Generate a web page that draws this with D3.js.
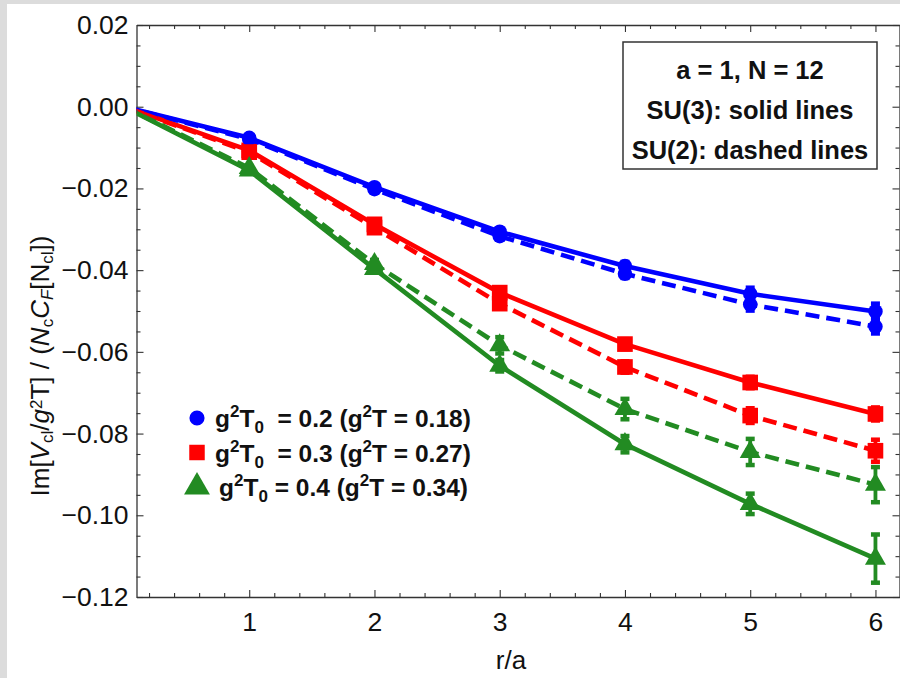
<!DOCTYPE html>
<html>
<head>
<meta charset="utf-8">
<script src="https://cdn.jsdelivr.net/npm/d3@7"></script>
<style>
  html, body { margin: 0; padding: 0; background: #dcdcdc; }
  svg { display: block; }
  text { font-family: "Liberation Sans", Arial, Helvetica, sans-serif; }
</style>
</head>
<body>
<svg id="chart" width="900" height="678"></svg>
<script>
// ---------- data ----------
const rValues = [0, 1, 2, 3, 4, 5, 6];

const su3_g02 = [0, -0.0076, -0.0197, -0.0306, -0.0390, -0.0458, -0.0501];
const su2_g02 = [0, -0.0079, -0.0202, -0.0317, -0.0409, -0.0484, -0.0538];
const su3_g03 = [0, -0.0107, -0.0288, -0.0455, -0.0581, -0.0675, -0.0752];
const su2_g03 = [0, -0.0111, -0.0296, -0.0482, -0.0637, -0.0756, -0.0842];
const su3_g04 = [0, -0.0156, -0.0397, -0.0634, -0.0826, -0.0972, -0.1106];
const su2_g04 = [0, -0.0150, -0.0385, -0.0584, -0.0740, -0.0845, -0.0925];

const err_su3_g02 = [0, 0.0004, 0.0006, 0.0008, 0.0010, 0.0015, 0.0019];
const err_su2_g02 = [0, 0.0004, 0.0006, 0.0008, 0.0010, 0.0015, 0.0017];
const err_su3_g03 = [0, 0.0005, 0.0007, 0.0010, 0.0012, 0.0014, 0.0016];
const err_su2_g03 = [0, 0.0005, 0.0008, 0.0011, 0.0014, 0.0018, 0.0027];
const err_su3_g04 = [0, 0.0005, 0.0009, 0.0014, 0.0020, 0.0025, 0.0059];
const err_su2_g04 = [0, 0.0005, 0.0010, 0.0020, 0.0025, 0.0032, 0.0043];

const yTickValues = [-0.12, -0.10, -0.08, -0.06, -0.04, -0.02, 0.00, 0.02];
const xTickValues = [1, 2, 3, 4, 5, 6];
const legendLabels = [
  ["0.2", "0.18"],
  ["0.3", "0.27"],
  ["0.4", "0.34"]
];
const infoLines = ["a = 1, N = 12", "SU(3): solid lines", "SU(2): dashed lines"];

// ---------- setup ----------
const svg = d3.select("#chart");
svg.append("rect").attr("x", 7).attr("y", 4).attr("width", 893).attr("height", 674).attr("fill", "#ffffff");

const pLeft = 136.5, pRight = 900.5, pTop = 25, pBottom = 597;
const x = d3.scaleLinear().domain([0.1, 6.2]).range([pLeft, pRight]);
const y = d3.scaleLinear().domain([-0.12, 0.02]).range([pBottom, pTop]);

const colors = ["#0000ff", "#ff0000", "#228b22"];
const axisColor = "#333333";

// minor ticks
const xMinor = d3.range(2, 62, 2).map(v => v / 10).filter(v => Math.abs(v - Math.round(v)) > 1e-6);
const yMinor = d3.range(-120, 21, 5).map(v => v / 1000).filter(v => Math.abs(v * 50 - Math.round(v * 50)) > 1e-6);

function styleAxis(g) {
  g.selectAll("path").attr("stroke", axisColor).attr("stroke-width", 1.3);
  g.selectAll("line").attr("stroke", axisColor).attr("stroke-width", 1.1);
  g.selectAll("text").attr("fill", "#111").style("font-size", "26.5px").style("font-family", "'Liberation Sans', Arial, sans-serif");
}

// left axis
const gL = svg.append("g").attr("transform", `translate(${pLeft},0)`)
  .call(d3.axisLeft(y).tickValues(yTickValues).tickSizeInner(-7).tickSizeOuter(0).tickPadding(8).tickFormat(d3.format(".2f")));
styleAxis(gL);
const gLm = svg.append("g").attr("transform", `translate(${pLeft},0)`)
  .call(d3.axisLeft(y).tickValues(yMinor).tickSizeInner(-4).tickSizeOuter(0).tickFormat(""));
styleAxis(gLm); gLm.select("path").remove();

// right axis
const gR = svg.append("g").attr("transform", `translate(${pRight - 1},0)`)
  .call(d3.axisRight(y).tickValues(yTickValues).tickSizeInner(-7).tickSizeOuter(0).tickFormat(""));
styleAxis(gR);
const gRm = svg.append("g").attr("transform", `translate(${pRight - 1},0)`)
  .call(d3.axisRight(y).tickValues(yMinor).tickSizeInner(-4).tickSizeOuter(0).tickFormat(""));
styleAxis(gRm); gRm.select("path").remove();

// bottom axis
const gB = svg.append("g").attr("transform", `translate(0,${pBottom})`)
  .call(d3.axisBottom(x).tickValues(xTickValues).tickSizeInner(-7).tickSizeOuter(0).tickPadding(15).tickFormat(d3.format("d")));
styleAxis(gB);
const gBm = svg.append("g").attr("transform", `translate(0,${pBottom})`)
  .call(d3.axisBottom(x).tickValues(xMinor).tickSizeInner(-4).tickSizeOuter(0).tickFormat(""));
styleAxis(gBm); gBm.select("path").remove();

// top axis
const gT = svg.append("g").attr("transform", `translate(0,${pTop})`)
  .call(d3.axisTop(x).tickValues(xTickValues).tickSizeInner(-7).tickSizeOuter(0).tickFormat(""));
styleAxis(gT);
const gTm = svg.append("g").attr("transform", `translate(0,${pTop})`)
  .call(d3.axisTop(x).tickValues(xMinor).tickSizeInner(-4).tickSizeOuter(0).tickFormat(""));
styleAxis(gTm); gTm.select("path").remove();

// ---------- data marks ----------
svg.append("clipPath").attr("id", "plotclip")
  .append("rect").attr("x", pLeft).attr("y", pTop).attr("width", pRight - pLeft).attr("height", pBottom - pTop);
const plot = svg.append("g").attr("clip-path", "url(#plotclip)");

const series = [
  { vals: su3_g02, err: err_su3_g02, color: colors[0], dashed: false, shape: d3.symbolCircle, size: 165 },
  { vals: su3_g03, err: err_su3_g03, color: colors[1], dashed: false, shape: d3.symbolSquare, size: 245 },
  { vals: su3_g04, err: err_su3_g04, color: colors[2], dashed: false, shape: d3.symbolTriangle, size: 190 },
  { vals: su2_g02, err: err_su2_g02, color: colors[0], dashed: true, shape: d3.symbolCircle, size: 165 },
  { vals: su2_g03, err: err_su2_g03, color: colors[1], dashed: true, shape: d3.symbolSquare, size: 245 },
  { vals: su2_g04, err: err_su2_g04, color: colors[2], dashed: true, shape: d3.symbolTriangle, size: 190 }
];

const line = d3.line().x(d => x(d.r)).y(d => y(d.v));

series.forEach(s => {
  const pts = rValues.map((r, i) => ({ r, v: s.vals[i], e: s.err[i] }));
  plot.append("path").datum(pts)
    .attr("d", line)
    .attr("fill", "none")
    .attr("stroke", s.color)
    .attr("stroke-width", 4.6)
    .attr("stroke-linejoin", "round")
    .attr("stroke-dasharray", s.dashed ? "14,7" : null);
  const shown = pts.filter(p => p.r > 0);
  // error bars
  const eb = plot.append("g");
  shown.forEach(p => {
    eb.append("line").attr("x1", x(p.r)).attr("x2", x(p.r))
      .attr("y1", y(p.v - p.e)).attr("y2", y(p.v + p.e))
      .attr("stroke", s.color).attr("stroke-width", 3.8);
    [p.v - p.e, p.v + p.e].forEach(v => {
      eb.append("line").attr("x1", x(p.r) - 4.5).attr("x2", x(p.r) + 4.5)
        .attr("y1", y(v)).attr("y2", y(v))
        .attr("stroke", s.color).attr("stroke-width", 4.5);
    });
  });
  plot.append("g").selectAll("path").data(shown).join("path")
    .attr("transform", p => `translate(${x(p.r)},${y(p.v)})`)
    .attr("d", d3.symbol().type(s.shape).size(s.size))
    .attr("fill", s.color);
});

// ---------- axis labels ----------
const ylab = svg.append("text")
  .attr("transform", "translate(49,366) rotate(-90)")
  .attr("text-anchor", "middle")
  .style("font-size", "26px").attr("fill", "#111");
ylab.append("tspan").text("Im[");
ylab.append("tspan").text("V").style("font-style", "italic");
ylab.append("tspan").text("cl").attr("baseline-shift", "-25%").style("font-size", "17px");
ylab.append("tspan").text("/");
ylab.append("tspan").text("g").style("font-style", "italic");
ylab.append("tspan").text("2").attr("baseline-shift", "40%").style("font-size", "17px");
ylab.append("tspan").text("T] / (");
ylab.append("tspan").text("N").style("font-style", "italic");
ylab.append("tspan").text("c").attr("baseline-shift", "-25%").style("font-size", "17px");
ylab.append("tspan").text("C").style("font-style", "italic");
ylab.append("tspan").text("F").attr("baseline-shift", "-25%").style("font-size", "17px").style("font-style", "italic");
ylab.append("tspan").text("[N");
ylab.append("tspan").text("cl").attr("baseline-shift", "-25%").style("font-size", "17px");
ylab.append("tspan").text("])");

svg.append("text").attr("x", 511).attr("y", 669).attr("text-anchor", "middle")
  .style("font-size", "26px").attr("fill", "#111").text("r/a");

// ---------- info box ----------
svg.append("rect").attr("x", 623).attr("y", 42).attr("width", 254).attr("height", 127)
  .attr("fill", "#ffffff").attr("stroke", "#333").attr("stroke-width", 1.5);
infoLines.forEach((t, i) => {
  svg.append("text").attr("x", 750).attr("y", 79 + i * 40).attr("text-anchor", "middle")
    .style("font-size", "25.5px").style("font-weight", "bold").attr("fill", "#111")
    .attr("xml:space", "preserve").text(t);
});

// ---------- legend ----------
const legendShapes = [d3.symbolCircle, d3.symbolSquare, d3.symbolTriangle];
const legendSizes = [180, 240, 290];
legendLabels.forEach((lab, i) => {
  const cy = 418 + i * 34.5;
  svg.append("path").attr("transform", `translate(197,${cy})`)
    .attr("d", d3.symbol().type(legendShapes[i]).size(legendSizes[i]))
    .attr("fill", colors[i]);
  const t = svg.append("text").attr("x", i < 2 ? 215 : 219).attr("y", cy + 9)
    .style("font-size", "24.5px").style("font-weight", "bold").attr("fill", "#111");
  t.append("tspan").text("g");
  t.append("tspan").text("2").attr("dy", -10).style("font-size", "17px");
  t.append("tspan").text("T").attr("dy", 10);
  t.append("tspan").text("0").attr("dy", 6).style("font-size", "17px");
  t.append("tspan").text((i < 2 ? "\u00a0 = " : " = ") + lab[0] + " (g").attr("dy", -6);
  t.append("tspan").text("2").attr("dy", -10).style("font-size", "17px");
  t.append("tspan").text("T = " + lab[1] + ")").attr("dy", 10);
});
</script>
</body>
</html>
